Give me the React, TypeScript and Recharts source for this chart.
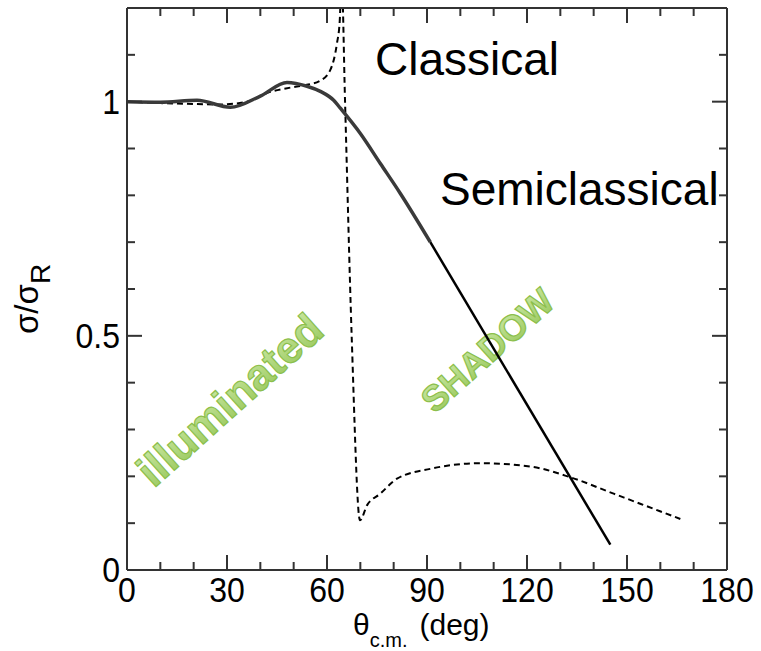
import React from 'react';
import { LineChart, Line, XAxis, YAxis, Customized } from 'recharts';

// semiclassical curve, smooth part (illuminated region)
const semiX = [0, 10, 21, 31, 40, 48, 54, 58, 62, 64, 70, 76, 82, 91];
const semiY = [1.0, 0.999, 1.003, 0.988, 1.012, 1.041, 1.033, 1.022, 1.003, 0.986, 0.932, 0.868, 0.804, 0.7];

// semiclassical curve, straight part (shadow region)
const shadowX = [91, 145];
const shadowY = [0.7, 0.054];

// classical curve (dashed)
const classX = [0, 10, 20, 28, 36, 43, 49, 54, 58, 61, 63, 63.8, 64.4, 65.4, 67.4, 69.9, 72, 76, 81, 91, 106, 121, 133, 146, 166];
const classY = [1.0, 0.997, 0.995, 0.994, 1.0, 1.021, 1.03, 1.036, 1.045, 1.068, 1.125, 1.17, 1.26, 1.004, 0.5, 0.106, 0.138, 0.163, 0.195, 0.216, 0.228, 0.221, 0.198, 0.163, 0.109];

const xTicks = [0, 10, 20, 30, 40, 50, 60, 70, 80, 90, 100, 110, 120, 130, 140, 150, 160, 170, 180];
const yTicks = [0, 0.1, 0.2, 0.3, 0.4, 0.5, 0.6, 0.7, 0.8, 0.9, 1.0, 1.1];
const xLabels = [0, 30, 60, 90, 120, 150, 180];
const yLabels = [0, 0.5, 1];

const toPoints = (xs: number[], ys: number[]) => xs.map((x, i) => ({ x, y: ys[i] }));

const semiData = toPoints(semiX, semiY);
const shadowData = toPoints(shadowX, shadowY);
const classData = toPoints(classX, classY);

const FONT = '"Liberation Sans", Arial, sans-serif';
const FRAME = '#333';

const isMajorX = (v: number) => xLabels.includes(v);
const isMajorY = (v: number) => yLabels.some(l => Math.abs(l - v) < 1e-6);

const BottomTick = (props: any) => {
  const { x, y, payload } = props;
  const v = payload.value;
  const major = isMajorX(v);
  return (
    <g>
      {v > 0 && v < 180 && (
        <line x1={x} y1={y} x2={x} y2={y - (major ? 15 : 8)} stroke={FRAME} strokeWidth={2} />
      )}
      {major && (
        <text
          x={x}
          y={y + 32}
          textAnchor="middle"
          fontSize={32}
          fontFamily={FONT}
          fill="#000"
          transform={`translate(0 ${y + 32}) scale(1 1.08) translate(0 ${-(y + 32)})`}
        >
          {v}
        </text>
      )}
    </g>
  );
};

const TopTick = (props: any) => {
  const { x, y, payload } = props;
  const v = payload.value;
  if (v <= 0 || v >= 180) return <g />;
  return <line x1={x} y1={y} x2={x} y2={y + (isMajorX(v) ? 15 : 8)} stroke={FRAME} strokeWidth={2} />;
};

const LeftTick = (props: any) => {
  const { x, y, payload } = props;
  const v = payload.value;
  const major = isMajorY(v);
  return (
    <g>
      {v > 0 && (
        <line x1={x} y1={y} x2={x + (major ? 15 : 8)} y2={y} stroke={FRAME} strokeWidth={2} />
      )}
      {major && (
        <text
          x={x - 7}
          y={y + 12}
          textAnchor="end"
          fontSize={32}
          fontFamily={FONT}
          fill="#000"
          transform={`translate(0 ${y + 12}) scale(1 1.08) translate(0 ${-(y + 12)})`}
        >
          {v}
        </text>
      )}
    </g>
  );
};

const RightTick = (props: any) => {
  const { x, y, payload } = props;
  const v = payload.value;
  if (v <= 0) return <g />;
  return <line x1={x} y1={y} x2={x - (isMajorY(v) ? 15 : 8)} y2={y} stroke={FRAME} strokeWidth={2} />;
};

const Annotations = () => (
  <g fontFamily={FONT}>
    <defs>
      <linearGradient id="greenFill" x1="0" y1="0" x2="0" y2="1">
        <stop offset="0%" stopColor="#cde9a6" />
        <stop offset="100%" stopColor="#97c75a" />
      </linearGradient>
    </defs>
    <text x={375} y={75} fontSize={46} fill="#000">Classical</text>
    <text x={440} y={205} fontSize={46} fill="#000">Semiclassical</text>
    <text
      x={230}
      y={415}
      transform="rotate(-42 230 400)"
      textAnchor="middle"
      fontSize={44}
      fontWeight="bold"
      fill="url(#greenFill)"
      stroke="#8cbf4c"
      strokeWidth={1.2}
    >
      illuminated
    </text>
    <text
      x={487}
      y={363}
      transform="rotate(-42 487 350)"
      textAnchor="middle"
      fontSize={36}
      fontWeight="bold"
      fill="url(#greenFill)"
      stroke="#8cbf4c"
      strokeWidth={1.2}
    >
      SHADOW
    </text>
    {/* y axis title */}
    <text x={38} y={334} transform="rotate(-90 38 334)" fontSize={33} fill="#000">
      σ/σ<tspan fontSize={28} dy={12}>R</tspan>
    </text>
    {/* x axis title */}
    <text x={353} y={635} fontSize={30} fill="#000">
      θ<tspan fontSize={20} dy={12}>c.m.</tspan>
      <tspan dy={-12} dx={12}>(deg)</tspan>
    </text>
  </g>
);

export default function App() {
  return (
    <div style={{ position: 'absolute', left: 0, top: 0, width: 761, height: 651, background: '#fff' }}>
      <LineChart
        width={761}
        height={651}
        margin={{ top: 3, right: 24, bottom: 21, left: 67 }}
      >
        <XAxis
          xAxisId="b"
          dataKey="x"
          type="number"
          domain={[0, 180]}
          ticks={xTicks}
          interval={0}
          height={60}
          tickSize={0}
          tickMargin={0}
          tickLine={false}
          axisLine={{ stroke: FRAME, strokeWidth: 2 }}
          tick={<BottomTick />}
          allowDataOverflow
        />
        <XAxis
          xAxisId="t"
          orientation="top"
          dataKey="x"
          type="number"
          domain={[0, 180]}
          ticks={xTicks}
          interval={0}
          height={5}
          tickSize={0}
          tickMargin={0}
          tickLine={false}
          axisLine={{ stroke: FRAME, strokeWidth: 2 }}
          tick={<TopTick />}
          allowDataOverflow
        />
        <YAxis
          yAxisId="l"
          type="number"
          domain={[0, 1.2]}
          ticks={yTicks}
          interval={0}
          width={60}
          tickSize={0}
          tickMargin={0}
          tickLine={false}
          axisLine={{ stroke: FRAME, strokeWidth: 2 }}
          tick={<LeftTick />}
          allowDataOverflow
        />
        <YAxis
          yAxisId="r"
          orientation="right"
          type="number"
          domain={[0, 1.2]}
          ticks={yTicks}
          interval={0}
          width={10}
          tickSize={0}
          tickMargin={0}
          tickLine={false}
          axisLine={{ stroke: FRAME, strokeWidth: 2 }}
          tick={<RightTick />}
          allowDataOverflow
        />
        <Line
          xAxisId="b"
          yAxisId="l"
          data={classData}
          dataKey="y"
          type="monotone"
          stroke="#000"
          strokeWidth={2}
          strokeDasharray="6 4"
          dot={false}
          isAnimationActive={false}
        />
        <Line
          xAxisId="b"
          yAxisId="l"
          data={semiData}
          dataKey="y"
          type="monotone"
          stroke="#3a3a3a"
          strokeWidth={3.5}
          dot={false}
          isAnimationActive={false}
        />
        <Line
          xAxisId="b"
          yAxisId="l"
          data={shadowData}
          dataKey="y"
          type="linear"
          stroke="#000"
          strokeWidth={2.5}
          dot={false}
          isAnimationActive={false}
        />
        <Customized component={Annotations} />
      </LineChart>
    </div>
  );
}
